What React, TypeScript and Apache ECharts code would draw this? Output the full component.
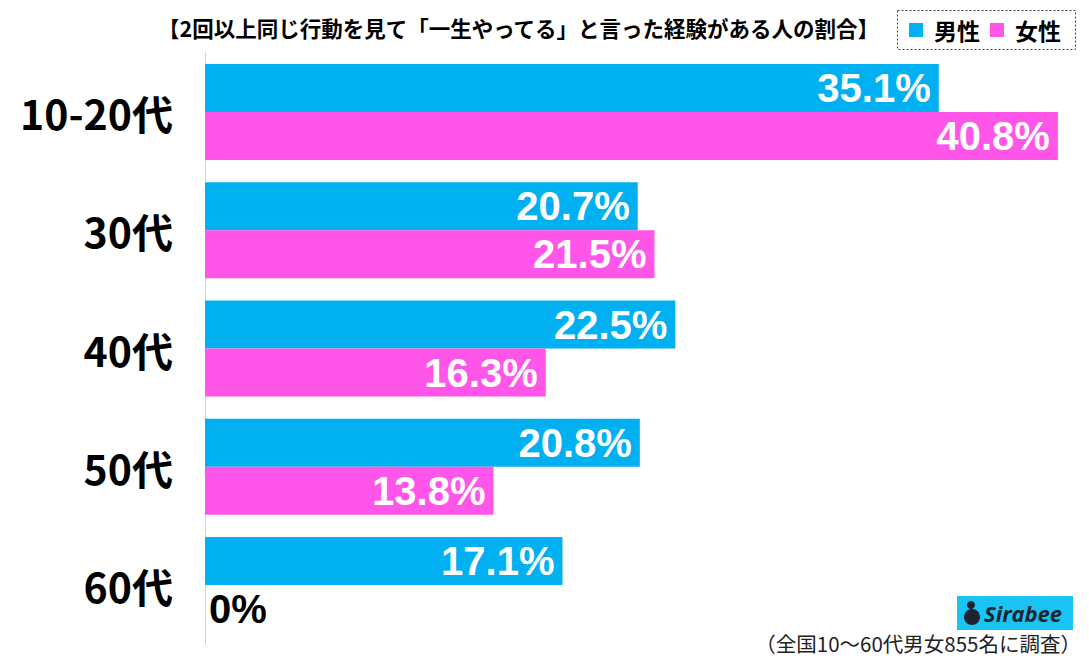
import React, { useEffect, useRef } from "react";
import * as echarts from "echarts";

const categories = ["10-20代", "30代", "40代", "50代", "60代"];
const maleValues = [35.1, 20.7, 22.5, 20.8, 17.1];
const femaleValues = [40.8, 21.5, 16.3, 13.8, 0];
const seriesNames = ["男性", "女性"];
const titleText = "【2回以上同じ行動を見て「一生やってる」と言った経験がある人の割合】";
const noteText = "（全国10～60代男女855名に調査）";

const FONT = "'Noto Sans CJK JP', 'Noto Sans', sans-serif";
const NUM_FONT = "'Liberation Sans', Arial, sans-serif";
const CYAN = "#00b0f0";
const PINK = "#ff55e8";

export default function App() {
  const ref = useRef<HTMLDivElement>(null);
  useEffect(() => {
    if (!ref.current) return;
    const chart = echarts.init(ref.current, undefined, { renderer: "svg" });
    const labelStyle = {
      show: true,
      position: "insideRight",
      distance: 8,
      color: "#fff",
      fontSize: 40,
      lineHeight: 44,
      fontWeight: "bold",
      fontFamily: NUM_FONT,
      formatter: "{c}%",
    };
    const femaleData = femaleValues.map((v) =>
      v === 0
        ? { value: v, label: { position: "right", color: "#000", distance: 4 } }
        : v
    );
    chart.setOption({
      animation: false,
      textStyle: { fontFamily: FONT },
      title: {
        text: titleText,
        left: 153,
        top: 12,
        textStyle: { fontSize: 21.5, fontWeight: "bold", color: "#000", fontFamily: FONT },
      },
      legend: {
        data: seriesNames,
        left: 909,
        top: 18,
        padding: 0,
        icon: "rect",
        itemWidth: 14,
        itemHeight: 14,
        itemGap: 10,
        textStyle: {
          fontSize: 23,
          lineHeight: 24,
          fontWeight: "bold",
          color: "#000",
          fontFamily: FONT,
          padding: [0, 0, 0, 6],
        },
      },
      grid: { left: 205, top: 53, width: 878, height: 591, containLabel: false },
      xAxis: {
        type: "value",
        min: 0,
        max: 42,
        show: false,
      },
      yAxis: {
        type: "category",
        data: categories,
        inverse: true,
        axisLine: { show: true, lineStyle: { color: "#d0d0d0", width: 1 } },
        axisTick: { show: false },
        axisLabel: {
          fontSize: 41,
          fontWeight: "bold",
          color: "#000",
          fontFamily: FONT,
          margin: 32,
        },
      },
      series: [
        {
          name: seriesNames[0],
          type: "bar",
          data: maleValues,
          barWidth: 48,
          barGap: "0%",
          itemStyle: { color: CYAN },
          label: labelStyle,
        },
        {
          name: seriesNames[1],
          type: "bar",
          data: femaleData,
          barWidth: 48,
          barGap: "0%",
          itemStyle: { color: PINK },
          label: labelStyle,
        },
      ],
      graphic: [
        {
          type: "rect",
          shape: { x: 897.5, y: 10.5, width: 178, height: 39 },
          style: { fill: "none", stroke: "#444", lineWidth: 1, lineDash: [2, 2] },
          z: -1,
        },
        {
          type: "group",
          left: 957,
          top: 596,
          children: [
            { type: "rect", shape: { x: 0, y: 0, width: 116, height: 34 }, style: { fill: "#19c3f2" } },
            { type: "circle", shape: { cx: 15, cy: 21, r: 8 }, style: { fill: "#1c2430" } },
            { type: "circle", shape: { cx: 14, cy: 9, r: 4 }, style: { fill: "#1c2430" } },
            {
              type: "text",
              x: 27,
              y: 17,
              style: {
                text: "Sirabee",
                fill: "#1c2430",
                fontSize: 22,
                fontWeight: "bold",
                fontStyle: "italic",
                fontFamily: "'Open Sans', sans-serif",
                verticalAlign: "middle",
              },
            },
          ],
        },
        {
          type: "text",
          x: 1081,
          y: 643,
          style: {
            text: noteText,
            fill: "#222",
            fontSize: 20.5,
            lineHeight: 22,
            fontFamily: FONT,
            align: "right",
            verticalAlign: "middle",
          },
        },
      ],
    });
    return () => chart.dispose();
  }, []);
  return (
    <div
      ref={ref}
      style={{ position: "absolute", left: 0, top: 0, width: 1089, height: 658 }}
    />
  );
}
